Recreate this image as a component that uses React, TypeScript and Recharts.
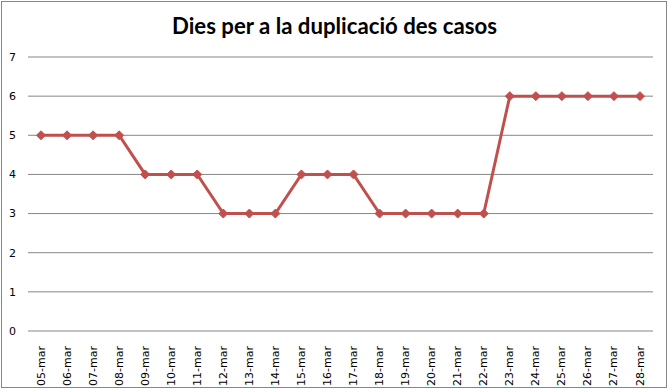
import React from 'react';
import { LineChart, Line, XAxis, YAxis, CartesianGrid } from 'recharts';

const categories = ['05-mar','06-mar','07-mar','08-mar','09-mar','10-mar','11-mar','12-mar','13-mar','14-mar','15-mar','16-mar','17-mar','18-mar','19-mar','20-mar','21-mar','22-mar','23-mar','24-mar','25-mar','26-mar','27-mar','28-mar'];
const dies = [5,5,5,5,4,4,4,3,3,3,4,4,4,3,3,3,3,3,6,6,6,6,6,6];
const yTicks = [0,1,2,3,4,5,6,7];
const title = 'Dies per a la duplicació des casos';

const data = categories.map((c, i) => ({ cat: c, dies: dies[i] }));

const LINE_COLOR = '#C0504D';
const GRID_COLOR = '#868686';

const Diamond = (props: any) => {
  const { cx, cy } = props;
  if (cx == null || cy == null) return null;
  const r = 4.5;
  return (
    <polygon
      points={`${cx},${cy - r} ${cx + r},${cy} ${cx},${cy + r} ${cx - r},${cy}`}
      fill={LINE_COLOR}
      stroke={LINE_COLOR}
      strokeWidth={1}
    />
  );
};

const XTick = (props: any) => {
  const { x, y, payload } = props;
  return (
    <text
      x={x}
      y={y + 7}
      transform={`rotate(-90, ${x}, ${y + 7})`}
      textAnchor="end"
      dominantBaseline="central"
      fontFamily="'DejaVu Sans', Verdana, sans-serif"
      fontSize={11}
      fill="#000"
    >
      {payload.value}
    </text>
  );
};

export default function App() {
  return (
    <div style={{ position: 'absolute', left: 0, top: 0, width: 669, height: 389, background: '#fff' }}>
      <div
        style={{
          position: 'absolute',
          left: 1,
          top: 1,
          width: 666,
          height: 387,
          boxSizing: 'border-box',
          border: `1px solid ${GRID_COLOR}`,
        }}
      />
      <svg style={{ position: 'absolute', left: 0, top: 0 }} width={669} height={60}>
        <text
          x={334.5}
          y={34}
          textAnchor="middle"
          fontFamily="Lato, 'Open Sans', sans-serif"
          fontWeight={700}
          fontSize={22}
          textLength={325}
          lengthAdjust="spacingAndGlyphs"
          fill="#000"
        >
          {title}
        </text>
      </svg>
      <div style={{ position: 'absolute', left: 0, top: 0 }}>
        <LineChart
          width={669}
          height={389}
          data={data}
          margin={{ top: 57, right: 16, bottom: 8, left: 0 }}
        >
          <CartesianGrid vertical={false} stroke={GRID_COLOR} strokeWidth={1} />
          <XAxis
            dataKey="cat"
            interval={0}
            axisLine={false}
            tickLine={false}
            height={50}
            padding={{ left: 13, right: 13 }}
            tick={<XTick />}
          />
          <YAxis
            domain={[0, 7]}
            ticks={yTicks}
            interval={0}
            axisLine={false}
            tickLine={false}
            width={28}
            tickMargin={6}
            tick={{ fontFamily: "'DejaVu Sans', Verdana, sans-serif", fontSize: 11, fill: '#000' }}
          />
          <Line
            type="linear"
            dataKey="dies"
            stroke={LINE_COLOR}
            strokeWidth={3}
            dot={<Diamond />}
            activeDot={false}
            isAnimationActive={false}
          />
        </LineChart>
      </div>
    </div>
  );
}
